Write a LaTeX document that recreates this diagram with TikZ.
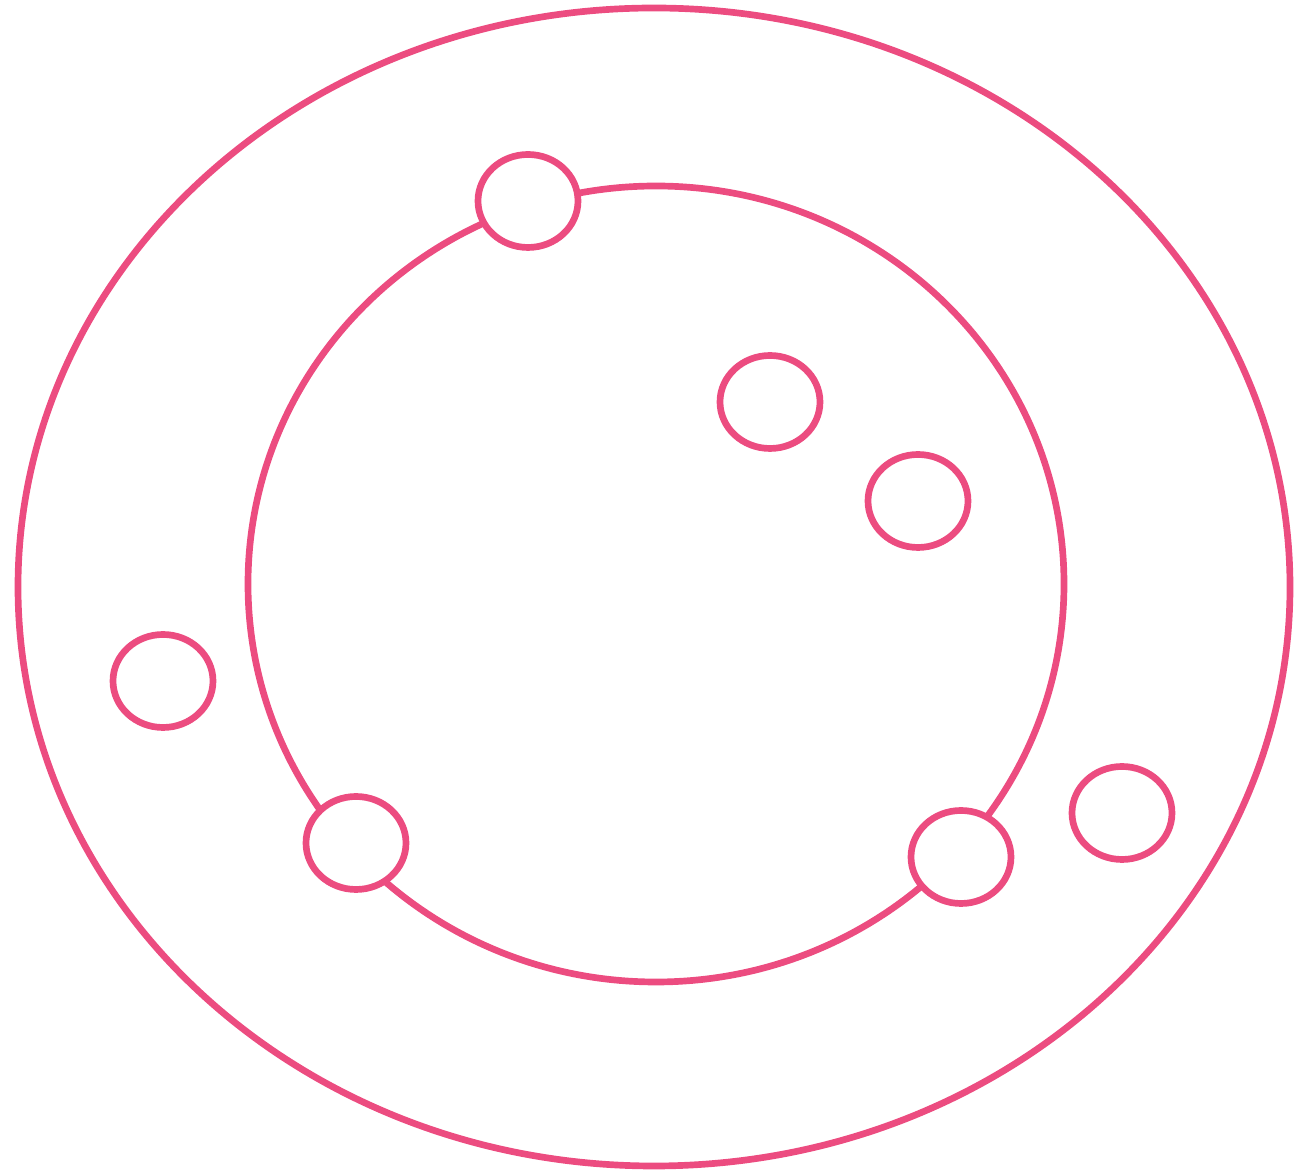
\documentclass[tikz,border=0pt]{standalone}
\usepackage{xcolor}
\usepackage{tikz}
\usetikzlibrary{shapes.geometric, positioning}
\definecolor{crayon}{HTML}{EC4C80}

\begin{document}
\begin{tikzpicture}[line width=3.8pt,
	ring/.style={draw=crayon},
	blob/.style={ellipse, draw=crayon, fill=white, inner sep=0pt, minimum width=2.0cm, minimum height=1.86cm}]
			\useasboundingbox (0,0) rectangle (26.26,23.44);
			\draw[ring] (13.08,11.70) ellipse [x radius=12.72, y radius=11.58];
			\draw[ring] (13.12,11.76) ellipse [x radius=8.16, y radius=7.96];
			% on the inner ring
			\node[blob] (top) at (10.56,19.42) {};
			\node[blob] (lowleft) at (7.12,6.58) {};
			\node[blob] (lowright) at (19.22,6.30) {};
			% free ones
			\node[blob] (upper) at (15.40,15.40) {};
			\node[blob] (mid) at (18.36,13.42) {};
			\node[blob] (farleft) at (3.26,9.82) {};
			\node[blob] (farright) at (22.44,7.18) {};
		\end{tikzpicture}
\end{document}
